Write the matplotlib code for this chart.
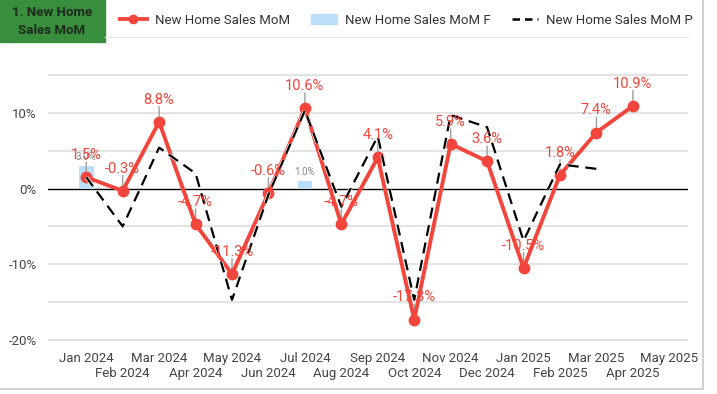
import matplotlib.pyplot as plt
import matplotlib.patheffects as pe
from matplotlib.patches import Rectangle
from matplotlib.lines import Line2D

plt.rcParams['font.family'] = ['Roboto', 'DejaVu Sans']

months = ["Jan 2024", "Feb 2024", "Mar 2024", "Apr 2024", "May 2024", "Jun 2024",
          "Jul 2024", "Aug 2024", "Sep 2024", "Oct 2024", "Nov 2024", "Dec 2024",
          "Jan 2025", "Feb 2025", "Mar 2025", "Apr 2025", "May 2025"]
sales_mom = [1.5, -0.3, 8.8, -4.7, -11.3, -0.6, 10.6, -4.7, 4.1, -17.3, 5.9, 3.6,
             -10.5, 1.8, 7.4, 10.9]
sales_mom_p = [1.5, -5.0, 5.4, 2.0, -14.7, -0.8, 10.3, -2.4, 6.9, -14.7, 9.7, 8.1,
               -6.9, 3.2, 2.6]
forecast_idx = [0, 6]
forecast_vals = [3.0, 1.0]

red = '#f2453b'
fig = plt.figure(figsize=(7.17, 3.94), dpi=100)
ax = fig.add_axes([0.0669, 0.1274, 0.892, 0.692])

x = list(range(len(sales_mom)))
xp = list(range(len(sales_mom_p)))

for g in [-20, -15, -10, -5, 5, 10, 15]:
    ax.axhline(g, color='#e0e0e0', lw=1.3, zorder=0)
ax.axhline(0, color='black', lw=1, zorder=1)

ax.bar(forecast_idx, forecast_vals, width=0.4, color='#bbdefb', zorder=2)
for i, v in zip(forecast_idx, forecast_vals):
    ax.annotate(f"{v:.1f}%", (i, v), xytext=(0, 3), textcoords='offset points',
                ha='center', va='bottom', fontsize=7, color='#888888', zorder=3)

ax.plot(x, sales_mom, color=red, lw=2.8, marker='o', ms=7.5, zorder=4)
ax.plot(xp, sales_mom_p, color='black', lw=1.6, dashes=(5, 3), zorder=5,
        path_effects=[pe.Stroke(linewidth=2.6, foreground='white'), pe.Normal()])

for i, v in zip(x, sales_mom):
    ax.annotate("", xy=(i, v), xytext=(0, 11), textcoords='offset points',
                xycoords='data', arrowprops=dict(arrowstyle='-', color='#9e9e9e', lw=1,
                                                 shrinkA=0, shrinkB=4), zorder=3)
    ax.annotate(f"{v:.1f}%", (i, v), xytext=(0, 11), textcoords='offset points',
                ha='center', va='bottom', fontsize=10.5, color=red, zorder=6)

ax.set_xlim(-1.05, 16.5)
ax.set_ylim(-20.5, 15.5)
ax.set_yticks([-20, -10, 0, 10])
ax.set_yticklabels(['-20%', '-10%', '0%', '10%'])
ax.set_xticks(range(len(months)))
ax.set_xticklabels([m if i % 2 == 0 else '\n' + m for i, m in enumerate(months)])
ax.tick_params(length=0, labelsize=9.5, colors='#444444', pad=6)
ax.tick_params(axis='y', pad=8)
for s in ax.spines.values():
    s.set_visible(False)

# title box and card decorations
fig.patches.append(Rectangle((0, 1 - 42 / 394), 105 / 717, 42 / 394,
                             transform=fig.transFigure, color='#388e3c', zorder=0))
fig.text(52 / 717, 1 - 21 / 394, "1. New Home\nSales MoM", ha='center', va='center',
         fontsize=9.5, fontweight='bold', color='#1e2a1e', linespacing=1.5)
fig.add_artist(Line2D([105 / 717, 688 / 717], [1 - 37 / 394] * 2, color='#e6e6e6', lw=1))
fig.add_artist(Line2D([703 / 717] * 2, [1 - 389 / 394, 1], color='#d0d0d0', lw=1.5))
fig.add_artist(Line2D([0, 703 / 717], [1 - 389 / 394] * 2, color='#d0d0d0', lw=1.5))

handles = [Line2D([], [], color=red, lw=2.8, marker='o', ms=6),
           Rectangle((0, 0), 1, 1, color='#bbdefb'),
           Line2D([], [], color='black', lw=1.8, dashes=(3, 2))]
labels = ["New Home Sales MoM", "New Home Sales MoM F", "New Home Sales MoM P"]
fig.legend(handles, labels, loc='center left', bbox_to_anchor=(115 / 717, 1 - 20 / 394),
           ncol=3, frameon=False, fontsize=9.5, handlelength=2.0, columnspacing=1.6,
           handletextpad=0.6, labelcolor='#333333', borderaxespad=0)

fig.savefig('out.png', dpi=100)
